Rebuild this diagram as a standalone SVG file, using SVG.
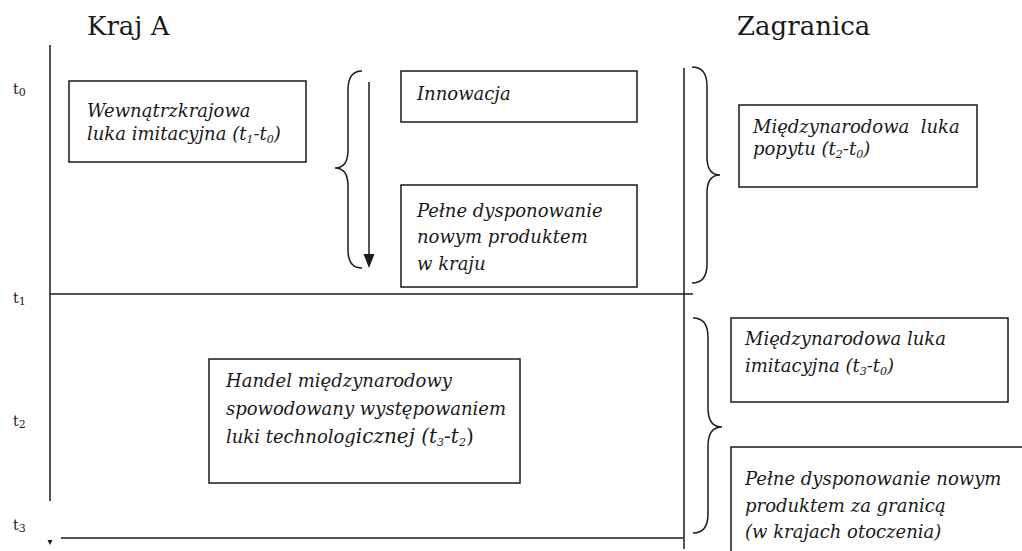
<svg xmlns="http://www.w3.org/2000/svg" width="1022" height="551" viewBox="0 0 1022 551">
<style>
.ln{stroke:#1a1a1a;stroke-width:1.5;fill:none}
.box{stroke:#1a1a1a;stroke-width:1.5;fill:#fff}
.br{stroke:#1a1a1a;stroke-width:1.5;fill:none}
text{font-family:'DejaVu Serif',serif;fill:#1a1a1a}
.t{font-style:italic;font-size:18px}
.h{font-size:26px}
.tl{font-size:14px}
.s{font-size:11px}
</style>
<rect width="1022" height="551" fill="#fff"/>
<g id="titles">
<text class="h" x="87" y="35">Kraj A</text>
<text class="h" x="737" y="35">Zagranica</text>
</g>
<g id="time-labels">
<text class="tl" x="13" y="94">t<tspan class="s" dy="2">0</tspan></text>
<text class="tl" x="13" y="303">t<tspan class="s" dy="2">1</tspan></text>
<text class="tl" x="13" y="426">t<tspan class="s" dy="2">2</tspan></text>
<text class="tl" x="13" y="530">t<tspan class="s" dy="2">3</tspan></text>
</g>
<g id="connectors">
<line class="ln" x1="50" y1="45" x2="50" y2="501"/>
<line class="ln" x1="50" y1="294" x2="693" y2="294"/>
<line class="ln" x1="61" y1="538" x2="683" y2="538"/>
<line class="ln" x1="684" y1="68" x2="684" y2="549"/>
<polygon points="47.5,540 52.5,540 50,545" fill="#1a1a1a"/>
<line class="ln" x1="369" y1="82" x2="369" y2="256"/>
<polygon points="363.5,254 374.5,254 369,268" fill="#1a1a1a"/>
<path class="br" d="M362,71 Q348,71 348,90 L348,150 Q348,168 335,168 Q348,168 348,186 L348,250 Q348,268 362,268"/>
<path class="br" d="M692,67 Q707,67 707,86 L707,157 Q707,175 720,175 Q707,175 707,193 L707,264 Q707,283 692,283"/>
<path class="br" d="M693,318 Q708,318 708,337 L708,408 Q708,427 722,427 Q708,427 708,446 L708,514 Q708,533 693,533"/>
</g>
<g id="n-wewn">
<rect class="box" x="69" y="81" width="237" height="81"/>
<text class="t" x="87" y="117">Wewnątrzkrajowa</text>
<text class="t" x="87" y="140">luka imitacyjna (t<tspan class="s" dy="3">1</tspan><tspan dy="-3">-t</tspan><tspan class="s" dy="3">0</tspan><tspan dy="-3">)</tspan></text>
</g>
<g id="n-innowacja">
<rect class="box" x="401" y="71" width="236" height="51"/>
<text class="t" x="417" y="100">Innowacja</text>
</g>
<g id="n-pelne-kraj">
<rect class="box" x="401" y="185" width="236" height="102"/>
<text class="t" x="417" y="217">Pełne dysponowanie</text>
<text class="t" x="417" y="243">nowym produktem</text>
<text class="t" x="417" y="270">w kraju</text>
</g>
<g id="n-popyt">
<rect class="box" x="739" y="105" width="238" height="82"/>
<text class="t" x="753" y="133" xml:space="preserve">Międzynarodowa  luka</text>
<text class="t" x="753" y="155">popytu (t<tspan class="s" dy="3">2</tspan><tspan dy="-3">-t</tspan><tspan class="s" dy="3">0</tspan><tspan dy="-3">)</tspan></text>
</g>
<g id="n-handel">
<rect class="box" x="209" y="359" width="311" height="124"/>
<text class="t" x="226" y="387">Handel międzynarodowy</text>
<text class="t" x="226" y="415">spowodowany występowaniem</text>
<text class="t" x="226" y="443">luki technolog<tspan font-size="20">icznej (t</tspan><tspan class="s" dy="3">3</tspan><tspan font-size="20" dy="-3">-t</tspan><tspan class="s" dy="3">2</tspan><tspan font-size="20" dy="-3" font-style="normal">)</tspan></text>
</g>
<g id="n-imit-miedzy">
<rect class="box" x="731" y="318" width="277" height="84"/>
<text class="t" x="745" y="345">Międzynarodowa luka</text>
<text class="t" x="745" y="372">imitacyjna (t<tspan class="s" dy="3">3</tspan><tspan dy="-3">-t</tspan><tspan class="s" dy="3">0</tspan><tspan dy="-3">)</tspan></text>
</g>
<g id="n-pelne-granica">
<rect class="box" x="731" y="447" width="310" height="130"/>
<text class="t" x="745" y="485">Pełne dysponowanie nowym</text>
<text class="t" x="745" y="512">produktem za granicą</text>
<text class="t" x="745" y="538">(w krajach otoczenia)</text>
</g>
</svg>
